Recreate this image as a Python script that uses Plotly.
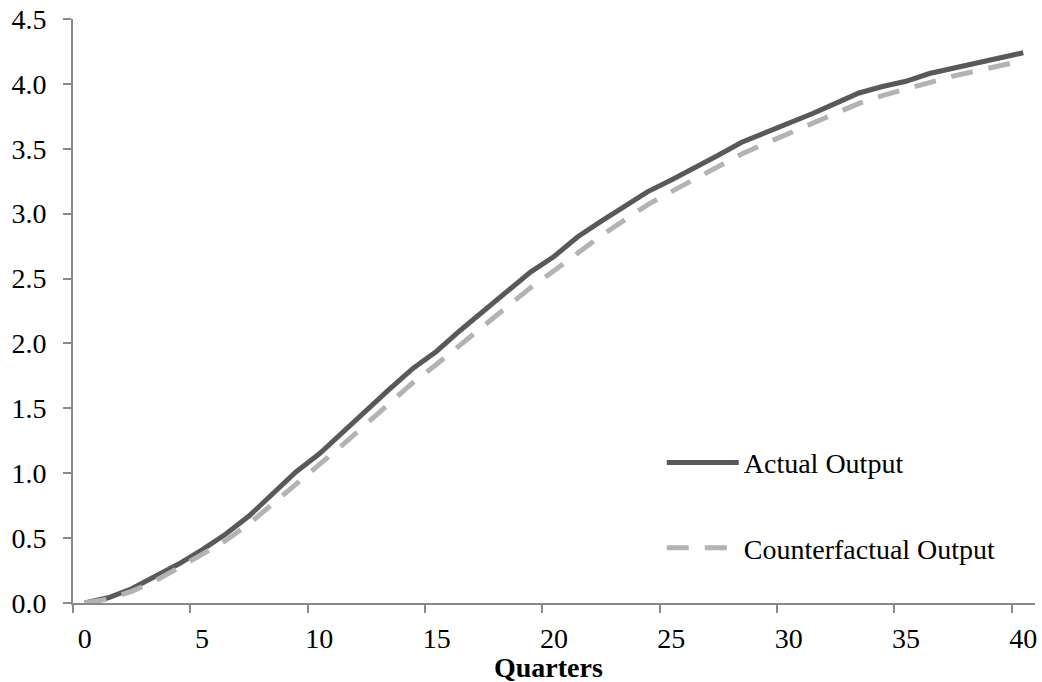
import plotly.graph_objects as go

quarters = list(range(0, 41))
actual_output = [0.00, 0.04, 0.11, 0.20, 0.30, 0.41, 0.53, 0.67, 0.84, 1.01,
                 1.15, 1.32, 1.48, 1.65, 1.81, 1.94, 2.10, 2.25, 2.41, 2.55,
                 2.67, 2.82, 2.94, 3.05, 3.17, 3.26, 3.35, 3.45, 3.55, 3.62,
                 3.70, 3.77, 3.85, 3.93, 3.98, 4.02, 4.08, 4.12, 4.16, 4.20,
                 4.24]
counterfactual_output = [0.00, 0.03, 0.09, 0.17, 0.27, 0.37, 0.48, 0.61, 0.76, 0.92,
                         1.06, 1.22, 1.38, 1.54, 1.70, 1.84, 1.99, 2.14, 2.29, 2.43,
                         2.56, 2.70, 2.83, 2.95, 3.07, 3.17, 3.27, 3.37, 3.46, 3.54,
                         3.62, 3.70, 3.78, 3.85, 3.91, 3.96, 4.01, 4.06, 4.10, 4.14,
                         4.18]
x_tick_labels = ["0", "5", "10", "15", "20", "25", "30", "35", "40"]
x_tick_values = [0, 5, 10, 15, 20, 25, 30, 35, 40]
y_tick_values = [0, 0.5, 1.0, 1.5, 2.0, 2.5, 3.0, 3.5, 4.0, 4.5]
x_title = "Quarters"

FONT = "Liberation Serif, Times New Roman, serif"
AXIS = "#898989"

fig = go.Figure()
fig.add_trace(go.Scatter(
    x=quarters, y=actual_output, mode="lines", name="Actual Output",
    line=dict(color="#595959", width=5), legend="legend", showlegend=True))
fig.add_trace(go.Scatter(
    x=quarters, y=counterfactual_output, mode="lines", name="Counterfactual Output",
    line=dict(color="#b3b3b3", width=5, dash="22px,16px"), legend="legend2",
    showlegend=True))

fig.update_layout(
    width=1042, height=682,
    margin=dict(l=73, r=7, t=19, b=79, autoexpand=False),
    showlegend=True,
    paper_bgcolor="white", plot_bgcolor="white",
    font=dict(family=FONT, size=28, color="black"),
    legend=dict(x=0.612, y=0.24, xanchor="left", yanchor="middle",
                itemwidth=72, bgcolor="rgba(0,0,0,0)",
                font=dict(family=FONT, size=28)),
    legend2=dict(x=0.612, y=0.094, xanchor="left", yanchor="middle",
                 itemwidth=72, bgcolor="rgba(0,0,0,0)",
                 font=dict(family=FONT, size=28)),
    xaxis=dict(
        range=[-0.5, 40.5], tickmode="array", tickvals=x_tick_values,
        ticktext=x_tick_labels, ticks="", ticklabelstandoff=9, automargin=False,
        showline=True, linecolor=AXIS, linewidth=2, showgrid=False, zeroline=False,
        minor=dict(tickmode="linear", tick0=-0.5, dtick=5, ticks="outside",
                   ticklen=8, tickwidth=2, tickcolor=AXIS, showgrid=False),
    ),
    yaxis=dict(
        range=[0, 4.5], tickmode="array", tickvals=y_tick_values,
        tickformat=".1f", ticks="outside", ticklen=8, tickwidth=2, tickcolor=AXIS,
        showline=True, linecolor=AXIS, linewidth=2, showgrid=False, zeroline=False,
        ticklabelstandoff=11, automargin=False,
    ),
    annotations=[dict(
        text="<b>" + x_title + "</b>", xref="paper", yref="paper",
        x=0.494, y=-0.111, xanchor="center", yanchor="middle", showarrow=False,
        font=dict(family=FONT, size=28, color="black"))],
)

fig.write_html("out.html", config={"displayModeBar": False},
               post_script="document.body.style.margin='0';")
